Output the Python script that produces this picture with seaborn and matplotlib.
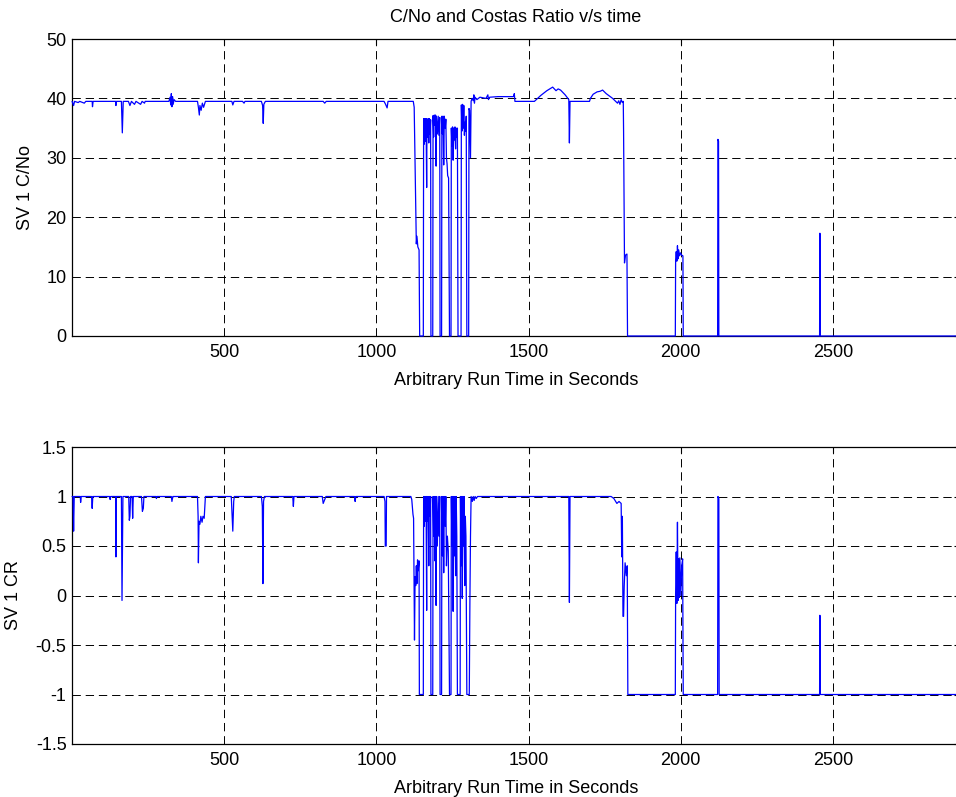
import numpy as np
import pandas as pd
import seaborn as sns
import matplotlib
matplotlib.use("Agg")
import matplotlib.pyplot as plt
from matplotlib.ticker import FormatStrFormatter

# C/No trace (time in s, dB-Hz), vertices
t_cn = [0, 5, 8, 20, 25, 40, 45, 66, 67, 69, 143, 144, 146, 162, 165, 168,
        185, 190, 195, 205, 210, 225, 230, 238, 240, 318, 322, 324, 326, 328,
        330, 332, 335, 340, 412, 415, 418, 420, 424, 428, 432, 438, 525, 528,
        532, 560, 565, 568, 622, 626, 628, 630, 635, 825, 830, 835, 1025, 1030,
        1035, 1038, 1121, 1124, 1131, 1133, 1136, 1140, 1142, 1154,
        1155, 1157, 1159, 1161, 1163, 1165, 1166, 1168, 1170, 1172, 1174, 1176, 1178, 1179,
        1185, 1186, 1188, 1190, 1192, 1194, 1196, 1197, 1200, 1203, 1205, 1208, 1209,
        1214, 1215, 1217, 1219, 1221, 1223, 1226, 1228, 1230, 1232, 1234, 1237, 1240,
        1245, 1246, 1248, 1250, 1252, 1254, 1256, 1258, 1260, 1262, 1264, 1266, 1268,
        1278, 1279, 1281, 1283, 1285, 1287, 1289, 1291, 1293, 1295, 1297,
        1303, 1304, 1306, 1309, 1311, 1314, 1318, 1320, 1322, 1324, 1330, 1340,
        1360, 1366, 1368, 1372, 1400, 1450, 1453, 1455, 1519, 1540, 1560, 1579,
        1590, 1597, 1605, 1620, 1632, 1634, 1636, 1700, 1703, 1712, 1725, 1735,
        1743, 1755, 1768, 1776, 1786, 1792, 1796, 1800, 1804, 1808, 1811, 1812,
        1815, 1818, 1823, 1825, 1982, 1983, 1985, 1987, 1989, 1991, 1993, 1996,
        1999, 2003, 2007, 2008, 2121, 2122, 2124, 2125, 2456, 2457, 2458, 2917]
cn = [39.5, 38.8, 39.5, 39.3, 39.5, 39.2, 39.5, 39.5, 38.6, 39.5, 39.5, 38.8, 39.5, 39.5, 34.2, 39.5,
      39.5, 38.8, 39.5, 39.0, 39.5, 39.0, 39.5, 39.2, 39.5, 39.5, 40.2, 38.9, 40.8, 38.6,
      40.3, 39.0, 39.8, 39.5, 39.5, 38.5, 37.2, 38.8, 38.0, 39.2, 38.5, 39.5, 39.5, 38.9,
      39.5, 39.5, 39.2, 39.5, 39.5, 38.8, 35.8, 39.0, 39.5, 39.5, 39.2, 39.5, 39.5, 39.0,
      38.4, 39.5, 39.5, 38.5, 15.5, 16.8, 15.0, 14.5, 0, 0,
      36.6, 32.3, 36.6, 32.8, 36.6, 25.0, 36.5, 33.5, 36.6, 32.5, 36.6, 34.0, 36.4, 0,
      0, 37.1, 33.5, 37.2, 35.5, 37.2, 28.6, 37.0, 34.0, 37.0, 33.8, 36.8, 0,
      0, 37.0, 34.0, 37.0, 28.8, 37.0, 35.0, 36.5, 30.0, 29.0, 27.0, 26.6, 0,
      0, 35.0, 32.0, 35.2, 29.6, 35.0, 33.0, 35.2, 31.5, 35.0, 33.5, 35.0, 0,
      0, 38.9, 34.5, 39.0, 35.0, 38.8, 33.8, 36.0, 34.5, 37.0, 0,
      0, 38.3, 38.0, 30.0, 39.5, 40.0, 39.6, 40.6, 39.2, 40.2, 39.8, 40.2,
      40.0, 40.6, 39.8, 40.2, 40.3, 40.3, 40.8, 39.5, 39.5, 40.5, 41.3, 41.9,
      41.3, 41.6, 41.4, 40.6, 39.8, 32.5, 39.5, 39.5, 40.0, 40.7, 41.1, 41.2,
      41.4, 40.8, 40.3, 40.0, 39.5, 39.2, 39.6, 39.0, 39.8, 39.3, 39.5, 34.4,
      12.3, 13.6, 13.8, 0, 0, 12.8, 14.2, 12.6, 15.2, 13.0, 14.5, 13.5,
      14.0, 13.6, 13.5, 0, 0, 33.1, 32.8, 0, 0, 17.3, 0, 0]

# Costas ratio trace
t_cr = [0, 3, 5, 7, 27, 28, 30, 64, 66, 68, 123, 125, 127, 143, 144, 145, 162, 164, 167,
        186, 188, 190, 192, 197, 199, 201, 228, 231, 234, 236, 276, 277, 279, 326, 328, 331,
        412, 414, 415, 417, 420, 423, 427, 430, 434, 438, 523, 526, 528, 531, 533,
        622, 625, 627, 629, 632, 725, 727, 729, 822, 825, 830, 834, 928, 930, 932,
        1025, 1028, 1029, 1032, 1033, 1113, 1116, 1120, 1122, 1125, 1127, 1129, 1131,
        1133, 1135, 1137, 1140, 1141, 1154,
        1155, 1157, 1159, 1161, 1163, 1165, 1166, 1168, 1170, 1172, 1174, 1176, 1178, 1179,
        1185, 1186, 1188, 1190, 1192, 1194, 1196, 1197, 1200, 1203, 1205, 1208, 1209,
        1214, 1215, 1217, 1219, 1221, 1223, 1226, 1228, 1230, 1233, 1236, 1240,
        1245, 1246, 1248, 1250, 1252, 1254, 1256, 1258, 1260, 1262, 1264, 1266,
        1275, 1276, 1278, 1280, 1282, 1284, 1286, 1288, 1290, 1292, 1294, 1297,
        1305, 1307, 1309, 1311, 1315, 1318, 1321, 1324, 1328, 1332,
        1632, 1634, 1636, 1771, 1780, 1790, 1797, 1804, 1806, 1808, 1810, 1812,
        1814, 1817, 1821, 1824, 1826, 1982, 1983, 1985, 1987, 1989, 1991, 1993,
        1995, 1997, 2000, 2003, 2006, 2008, 2121, 2122, 2125, 2126, 2456, 2457,
        2458, 2917]
cr = [1.0, 1.0, 0.65, 1.0, 1.0, 0.94, 1.0, 1.0, 0.88, 1.0, 1.0, 0.97, 1.0, 1.0, 0.39, 1.0, 1.0, -0.05, 1.0,
      1.0, 0.76, 0.80, 1.0, 1.0, 0.78, 1.0, 1.0, 0.85, 0.88, 1.0, 1.0, 0.98, 1.0, 1.0, 0.95, 1.0,
      1.0, 0.8, 0.33, 0.75, 0.72, 0.80, 0.74, 0.80, 0.78, 1.0, 1.0, 0.8, 0.65, 0.95, 1.0,
      1.0, 0.9, 0.12, 0.95, 1.0, 1.0, 0.90, 1.0, 1.0, 0.93, 0.97, 1.0, 1.0, 0.95, 1.0,
      1.0, 0.95, 0.5, 0.5, 1.0, 1.0, 0.97, 0.82, 0.78, -0.45, 0.19, 0.1, 0.3,
      0.12, 0.36, 0.25, 0.35, -1, -1,
      1.0, 0.7, 1.0, 0.75, 1.0, -0.15, 1.0, 0.75, 1.0, 0.3, 1.0, 0.8, 1.0, -1,
      -1, 1.0, 0.6, 1.0, 0.35, 1.0, -0.1, 1.0, 0.5, 1.0, 0.6, 1.0, -1,
      -1, 1.0, 0.4, 1.0, 0.23, 1.0, 0.7, 1.0, 0.3, 0.6, 0.45, -1,
      -1, 1.0, 0.5, 1.0, -0.16, 1.0, 0.4, 1.0, 0.2, 1.0, 0.6, -1,
      -1, 1.0, 0.3, 1.0, -0.03, 1.0, 0.5, 1.0, 0.1, 0.8, 0.6, -1,
      -1, -0.08, 0.6, 1.0, 0.95, 1.0, 0.96, 1.0, 0.98, 1.0,
      1.0, -0.07, 1.0, 1.0, 0.98, 0.93, 0.95, 0.93, 0.39, 0.80, -0.21, -0.21,
      0.09, 0.33, 0.2, 0.3, -1, -1, 0.02, 0.44, -0.08, 0.74, -0.05, 0.37,
      -0.02, 0.38, 0.0, 0.3, 0.37, -1, -1, 1.0, 0.98, -1, -1, -0.2,
      -1, -1]

x_ticks = [500, 1000, 1500, 2000, 2500]
cn_ticks = [0, 10, 20, 30, 40, 50]
cr_ticks = [-1.5, -1, -0.5, 0, 0.5, 1, 1.5]

FS = 13

sns.set_theme(style="white", rc={"lines.scale_dashes": False,
                                 "text.color": "black",
                                 "axes.labelcolor": "black"})
plt.rcParams["font.family"] = ["Liberation Sans", "DejaVu Sans"]
plt.rcParams["font.size"] = FS

W, H = 956, 797
fig = plt.figure(figsize=(W / 100, H / 100), dpi=100)
x0 = 72.1
xmax = (960 - x0) / 0.30435
ax1 = fig.add_axes([x0 / W, 461 / H, (960 - x0) / W, 297 / H])
ax2 = fig.add_axes([x0 / W, 53 / H, (960 - x0) / W, 297 / H])

df_cn = pd.DataFrame({"t": t_cn, "v": cn})
df_cr = pd.DataFrame({"t": t_cr, "v": cr})

# lx: pixel x where the rotated y-label's right side sits
for ax, df, yt, ylab, ylim, lx in [
    (ax1, df_cn, cn_ticks, "SV 1 C/No", (0, 50), 34),
    (ax2, df_cr, cr_ticks, "SV 1 CR", (-1.5, 1.5), 22),
]:
    sns.lineplot(data=df, x="t", y="v", sort=False, estimator=None,
                 color="#0000ff", lw=0.9, ax=ax, zorder=3, clip_on=False)
    ax.set_xlim(0, xmax)
    ax.set_ylim(*ylim)
    ax.set_xticks(x_ticks)
    ax.set_yticks(yt)
    ax.yaxis.set_major_formatter(FormatStrFormatter("%g"))
    ax.grid(True, color="black", lw=0.7, linestyle=(0, (6, 3.5)))
    ax.set_axisbelow(True)
    for s in ax.spines.values():
        s.set_color("black")
        s.set_linewidth(0.9)
        s.set_visible(True)
    ax.tick_params(direction="in", length=4, width=0.8, color="black",
                   top=True, right=True, labelsize=FS, pad=6,
                   labelcolor="black")
    ax.tick_params(axis="y", pad=4)
    ax.set_xlabel("Arbitrary Run Time in Seconds", fontsize=FS, labelpad=8)
    ax.set_ylabel(ylab, fontsize=FS)
    ax.yaxis.set_label_coords((lx - x0) / (960 - x0), 0.5)

ax1.set_title("C/No and Costas Ratio v/s time", fontsize=FS, pad=12)

fig.savefig("out.png", dpi=100)
